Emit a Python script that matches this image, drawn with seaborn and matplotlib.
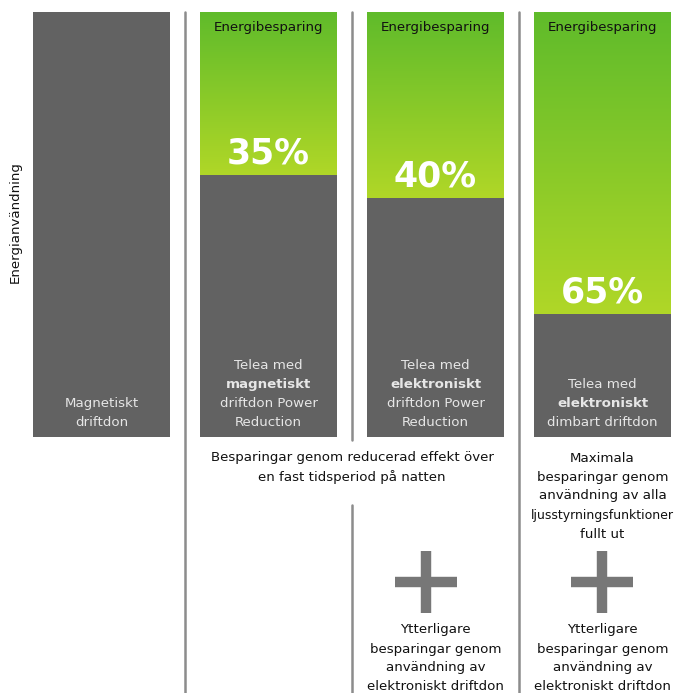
import numpy as np
import pandas as pd
import matplotlib
matplotlib.use("Agg")
import matplotlib.pyplot as plt
import matplotlib.colors as mcolors
import seaborn as sns

# ---- data ----
categories = ["Magnetiskt driftdon", "Telea magnetiskt PR", "Telea elektroniskt PR", "Telea elektroniskt dimbart"]
total_energy = [100, 100, 100, 100]
remaining_energy = [100, 61.6, 56.2, 28.9]
savings_labels = ["", "35%", "40%", "65%"]
has_saving = [False, True, True, True]
bar_texts = [
    [("Magnetiskt", False), ("driftdon", False)],
    [("Telea med", False), ("magnetiskt", True), ("driftdon Power", False), ("Reduction", False)],
    [("Telea med", False), ("elektroniskt", True), ("driftdon Power", False), ("Reduction", False)],
    [("Telea med", False), ("elektroniskt", True), ("dimbart driftdon", False)],
]
saving_title = "Energibesparing"
ylabel = "Energianvändning"
note_night = ["Besparingar genom reducerad effekt över", "en fast tidsperiod på natten"]
note_max = ["Maximala", "besparingar genom", "användning av alla", "ljusstyrningsfunktioner", "fullt ut"]
note_extra = ["Ytterligare", "besparingar genom", "användning av", "elektroniskt driftdon"]

sns.set_theme(style="white")
plt.rcParams['font.family'] = ['DejaVu Sans']

W, H = 675, 693
fig = plt.figure(figsize=(W / 100, H / 100), dpi=100)
# axes: y value 0 at pixel 437, value 100 at pixel 12
ax = fig.add_axes([0, (H - 437) / H, 1, (437 - 12) / H])
px_per_unit = 167.0
x0 = 101.5

def ypix(py):
    return (437 - py) / 4.25

GRAY = "#626262"
GREEN_TOP = "#5fbb2b"
GREEN_BOT = "#b0d727"

df = pd.DataFrame({"cat": categories, "total": total_energy, "remaining": remaining_energy,
                   "saving": has_saving})
green_df = df.copy()
green_df.loc[~green_df["saving"], "total"] = 0
sns.barplot(data=green_df, x="cat", y="total", color=GREEN_TOP, width=0.82, ax=ax,
            saturation=1, edgecolor="none", linewidth=0)
green_patches = list(ax.patches)
cmap = mcolors.LinearSegmentedColormap.from_list("g", [GREEN_BOT, GREEN_TOP])
for p, rem, hs in zip(green_patches, remaining_energy, has_saving):
    if not hs:
        continue
    x_l = p.get_x(); w = p.get_width(); top = p.get_height()
    grad = np.linspace(0, 1, 256).reshape(-1, 1)
    im = ax.imshow(grad, cmap=cmap, origin="lower", aspect="auto",
                   extent=[x_l, x_l + w, rem, top], zorder=1.5)
    im.set_clip_path(p)

sns.barplot(data=df, x="cat", y="remaining", color=GRAY, width=0.82, ax=ax,
            saturation=1, edgecolor="none", linewidth=0, zorder=2)
ax.set_xlim(-x0 / px_per_unit, (W - x0) / px_per_unit)
ax.set_ylim(0, 100)
ax.axis("off")

FS = 9.6
# texts inside bars
for i in range(len(categories)):
    if has_saving[i]:
        ax.text(i, ypix(28), saving_title, ha="center", va="center", fontsize=FS, color="#111111", zorder=5)
        ax.text(i, remaining_energy[i] + ypix(437 - 22), savings_labels[i], ha="center", va="center",
                fontsize=25, fontweight="bold", color="white", zorder=5)
    lines = bar_texts[i]
    n = len(lines)
    for k, (t, b) in enumerate(lines):
        py = 423 - (n - 1 - k) * 19.3
        ax.text(i, ypix(py), t, ha="center", va="center", fontsize=FS,
                fontweight="bold" if b else "normal", color="#e6e6e6", zorder=5)

# y label
fig.text(15 / W, 1 - 222 / H, ylabel, rotation=90, ha="center", va="center", fontsize=FS, color="#111111")

# divider lines
LC = "#8c8c8c"
bottom_val = ypix(H)
ax.plot([0.5, 0.5], [100, bottom_val], color=LC, lw=1.8, clip_on=False, zorder=3)
ax.plot([1.5, 1.5], [100, ypix(440)], color=LC, lw=1.8, clip_on=False, zorder=3)
ax.plot([1.5, 1.5], [ypix(505), bottom_val], color=LC, lw=1.8, clip_on=False, zorder=3)
ax.plot([2.5, 2.5], [100, bottom_val], color=LC, lw=1.8, clip_on=False, zorder=3)

# notes below
for k, t in enumerate(note_night):
    ax.text(1.5, ypix(458 + k * 19), t, ha="center", va="center", fontsize=FS, color="#111111", clip_on=False)
for k, t in enumerate(note_max):
    fs = 9.0 if len(t) > 20 else FS
    ax.text(3.0, ypix(458 + k * 19), t, ha="center", va="center", fontsize=fs, color="#111111", clip_on=False)
for xc in [2, 3]:
    for k, t in enumerate(note_extra):
        ax.text(xc, ypix(630 + k * 19), t, ha="center", va="center", fontsize=FS, color="#111111", clip_on=False)

# plus signs
PC = "#777777"
for pcx, pcy in [((426 - x0) / px_per_unit, 582), (2.995, 582)]:
    hw = 31 / px_per_unit
    ax.plot([pcx - hw, pcx + hw], [ypix(pcy), ypix(pcy)], color=PC, lw=7.5, solid_capstyle="butt", clip_on=False)
    ax.plot([pcx, pcx], [ypix(pcy - 31), ypix(pcy + 31)], color=PC, lw=7.5, solid_capstyle="butt", clip_on=False)

fig.savefig("out.png", dpi=100)
